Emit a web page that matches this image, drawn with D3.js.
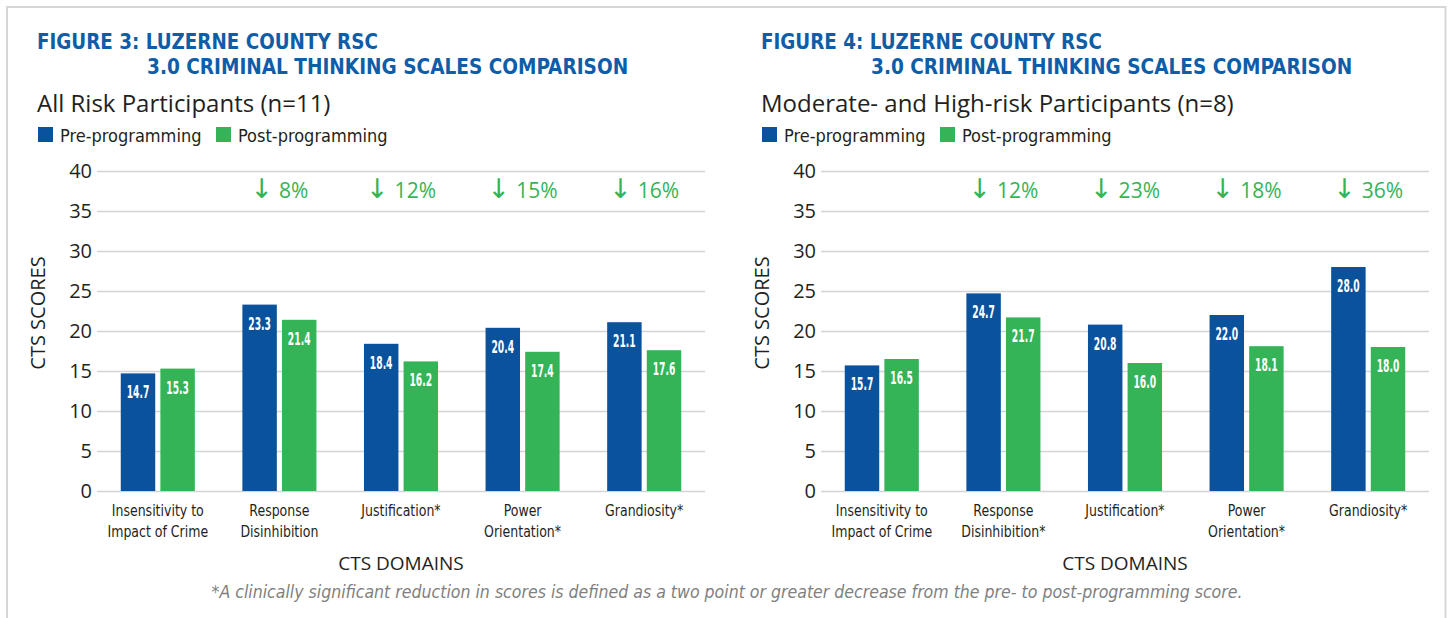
<!DOCTYPE html>
<html>
<head>
<meta charset="utf-8">
<script src="https://cdn.jsdelivr.net/npm/d3@7"></script>
<style>
  html, body { margin: 0; padding: 0; background: #fff; }
  svg { display: block; }
  .cond { font-family: "Liberation Sans Narrow", "DejaVu Sans Condensed", sans-serif; }
  .hum { font-family: "Open Sans", "Noto Sans", sans-serif; }
  .arrow { font-family: "DejaVu Sans", sans-serif; }
</style>
</head>
<body>
<svg id="chart" width="1448" height="618"></svg>
<script>
// ---- data ----
const series = ["Pre-programming", "Post-programming"];
const yTicks = [0, 5, 10, 15, 20, 25, 30, 35, 40];

const fig3Title = ["FIGURE 3: LUZERNE COUNTY RSC", "3.0 CRIMINAL THINKING SCALES COMPARISON"];
const fig3Subtitle = "All Risk Participants (n=11)";
const fig3Categories = ["Insensitivity to|Impact of Crime", "Response|Disinhibition", "Justification*", "Power|Orientation*", "Grandiosity*"];
const fig3Pre = [14.7, 23.3, 18.4, 20.4, 21.1];
const fig3Post = [15.3, 21.4, 16.2, 17.4, 17.6];
const fig3Change = ["", "8%", "12%", "15%", "16%"];

const fig4Title = ["FIGURE 4: LUZERNE COUNTY RSC", "3.0 CRIMINAL THINKING SCALES COMPARISON"];
const fig4Subtitle = "Moderate- and High-risk Participants (n=8)";
const fig4Categories = ["Insensitivity to|Impact of Crime", "Response|Disinhibition*", "Justification*", "Power|Orientation*", "Grandiosity*"];
const fig4Pre = [15.7, 24.7, 20.8, 22.0, 28.0];
const fig4Post = [16.5, 21.7, 16.0, 18.1, 18.0];
const fig4Change = ["", "12%", "23%", "18%", "36%"];

const footnote = "*A clinically significant reduction in scores is defined as a two point or greater decrease from the pre- to post-programming score.";

// ---- style ----
const BLUE = "#0A529C";
const GREEN = "#34B457";
const TITLE_BLUE = "#0E5DA8";
const GRID = "#d4d4d4";

const svg = d3.select("#chart");

function squeeze(sel, factor) {
  sel.each(function () {
    const w = this.getComputedTextLength();
    d3.select(this).attr("textLength", w * factor).attr("lengthAdjust", "spacingAndGlyphs");
  });
  return sel;
}

// frame
svg.append("path")
  .attr("d", "M7,618 L7,7 L1445.5,7 L1445.5,618")
  .attr("fill", "none").attr("stroke", "#d6d6d6").attr("stroke-width", 2);

function drawPanel(ox, title, subtitle, cats, pre, post, change) {
  const g = svg.append("g").attr("transform", `translate(${ox},0)`);
  const left = 97, right = 705, top = 171, bottom = 491;

  // title
  squeeze(g.append("text").attr("class", "cond").attr("x", 37).attr("y", 49)
    .attr("font-size", 21).attr("font-weight", "bold").attr("fill", TITLE_BLUE).text(title[0]), 0.97);
  squeeze(g.append("text").attr("class", "cond").attr("x", 147).attr("y", 74)
    .attr("font-size", 21).attr("font-weight", "bold").attr("fill", TITLE_BLUE).text(title[1]), 0.98);

  // subtitle
  g.append("text").attr("class", "hum").attr("x", 37).attr("y", 112)
    .attr("font-size", 24).attr("fill", "#231f20").text(subtitle);

  // legend
  const color = d3.scaleOrdinal().domain(series).range([BLUE, GREEN]);
  const legX = [38, 216];
  series.forEach((s, i) => {
    g.append("rect").attr("x", legX[i]).attr("y", 127).attr("width", 15).attr("height", 15).attr("fill", color(s));
    g.append("text").attr("class", "cond").attr("x", legX[i] + 22).attr("y", 142)
      .attr("font-size", 18).attr("fill", "#231f20").text(s);
  });

  const y = d3.scaleLinear().domain([0, 40]).range([bottom, top]);
  const x0 = d3.scaleBand().domain(cats).range([left, right]).padding(0);
  const x1 = d3.scaleBand().domain(series).range([0, x0.bandwidth()]).paddingInner(0.13).paddingOuter(0.6);

  // grid + y labels
  const yAxis = d3.axisLeft(y).tickValues(yTicks).tickSize(-(right - left)).tickPadding(6);
  const ya = g.append("g").attr("transform", `translate(${left},0)`).call(yAxis);
  ya.select(".domain").remove();
  ya.selectAll(".tick line").attr("stroke", GRID).attr("stroke-width", 1.5);
  ya.selectAll(".tick text").attr("class", "hum").attr("font-size", 20).attr("fill", "#231f20").attr("x", -5);

  // y title
  g.append("text").attr("class", "hum")
    .attr("transform", `translate(45,313) rotate(-90)`)
    .attr("text-anchor", "middle").attr("font-size", 20).attr("fill", "#231f20").text("CTS SCORES");

  const rows = cats.map((c, i) => ({ cat: c, vals: [{ s: series[0], v: pre[i] }, { s: series[1], v: post[i] }], change: change[i] }));

  const cg = g.selectAll("g.cat").data(rows).join("g").attr("class", "cat")
    .attr("transform", d => `translate(${x0(d.cat)},0)`);

  cg.selectAll("rect").data(d => d.vals).join("rect")
    .attr("x", d => x1(d.s)).attr("width", x1.bandwidth())
    .attr("y", d => y(d.v)).attr("height", d => y(0) - y(d.v))
    .attr("fill", d => color(d.s));

  squeeze(cg.selectAll("text.val").data(d => d.vals).join("text").attr("class", "val cond")
    .attr("x", d => x1(d.s) + x1.bandwidth() / 2).attr("y", d => y(d.v) + 25)
    .attr("text-anchor", "middle").attr("font-size", 17).attr("font-weight", "bold")
    .attr("fill", "#fff").text(d => d.v.toFixed(1)), 0.6);

  // change labels
  cg.filter(d => d.change).each(function (d) {
    const t = d3.select(this).append("text")
      .attr("x", x0.bandwidth() / 2).attr("y", 198)
      .attr("text-anchor", "middle").attr("fill", GREEN);
    t.append("tspan").attr("class", "arrow").attr("font-size", 27).text("↓");
    t.append("tspan").attr("class", "hum").attr("font-size", 21).attr("dx", 6).text(d.change);
  });

  // category labels
  cg.each(function (d) {
    const lines = d.cat.split("|");
    lines.forEach((ln, i) => {
      squeeze(d3.select(this).append("text").attr("class", "cond")
        .attr("text-anchor", "middle").attr("font-size", 16).attr("fill", "#231f20")
        .attr("x", x0.bandwidth() / 2).attr("y", 516 + i * 21).text(ln), 0.87);
    });
  });

  // x title
  g.append("text").attr("class", "hum").attr("x", (left + right) / 2).attr("y", 570)
    .attr("text-anchor", "middle").attr("font-size", 19).attr("fill", "#231f20").text("CTS DOMAINS");
}

drawPanel(0, fig3Title, fig3Subtitle, fig3Categories, fig3Pre, fig3Post, fig3Change);
drawPanel(724, fig4Title, fig4Subtitle, fig4Categories, fig4Pre, fig4Post, fig4Change);

const fn = svg.append("text").attr("class", "cond").attr("x", 727).attr("y", 598)
  .attr("text-anchor", "middle").attr("font-size", 17).attr("font-style", "italic")
  .attr("fill", "#808080").text(footnote);
fn.attr("textLength", 1031).attr("lengthAdjust", "spacingAndGlyphs");
</script>
</body>
</html>
